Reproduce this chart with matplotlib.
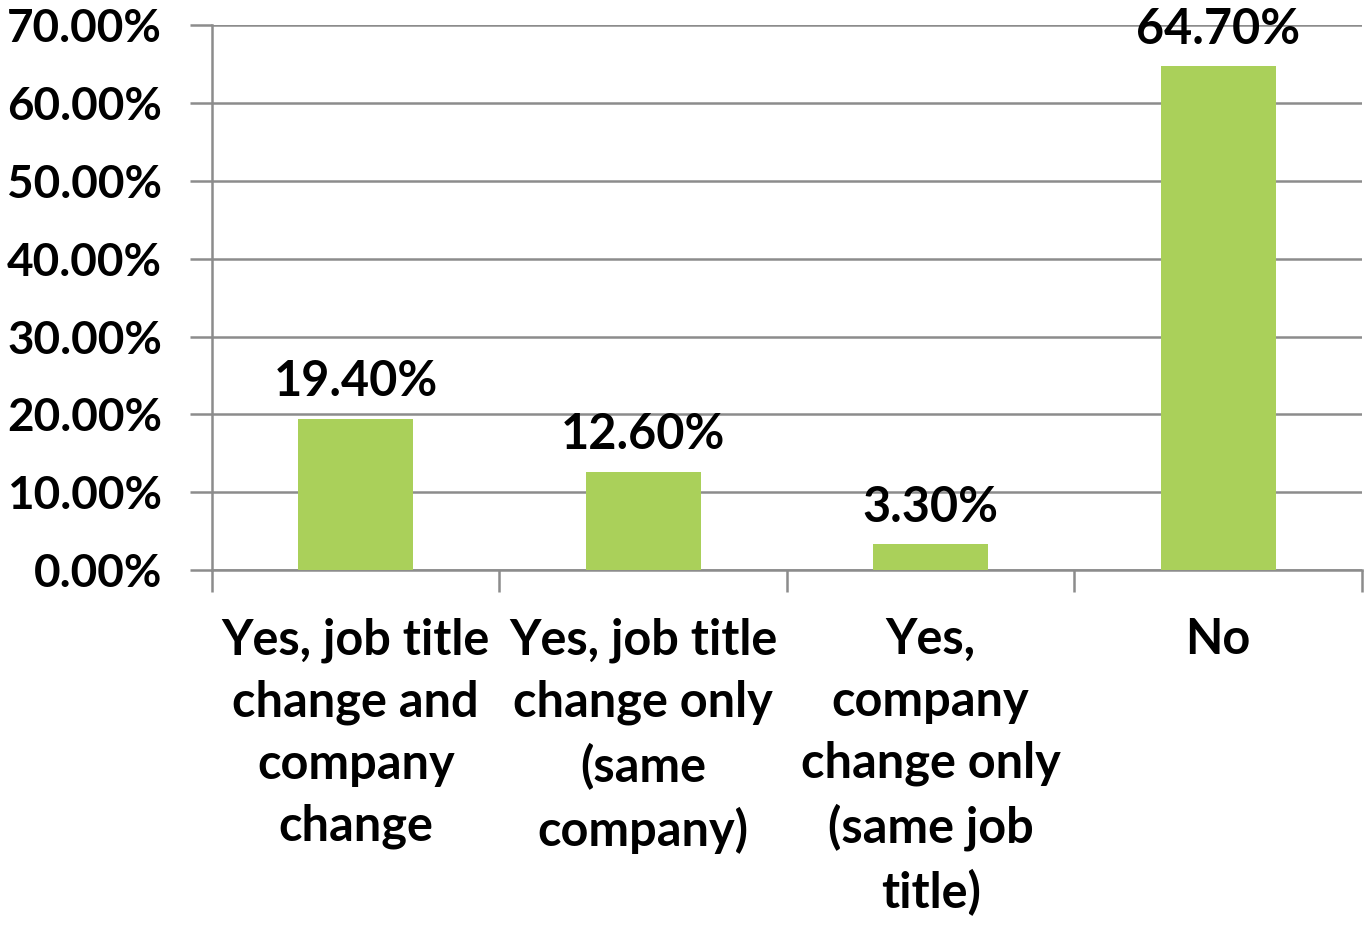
import matplotlib.pyplot as plt
import numpy as np
from matplotlib.ticker import FuncFormatter, FixedLocator

plt.rcParams['font.family'] = ['Lato', 'DejaVu Sans']
plt.rcParams['font.weight'] = 'bold'

categories = [
    'Yes, job title\nchange and\ncompany\nchange',
    'Yes, job title\nchange only\n(same\ncompany)',
    'Yes,\ncompany\nchange only\n(same job\ntitle)',
    'No',
]
shares = [19.4, 12.6, 3.3, 64.7]
y_ticks = [0, 10, 20, 30, 40, 50, 60, 70]

bar_color = '#aad05a'
grid_color = '#8c8c8c'
font_size = 35

fig = plt.figure(figsize=(13.64, 9.27), dpi=100)
ax = fig.add_axes([0.1554, 0.385, 0.843, 0.588])

x = np.arange(len(categories))
ax.bar(x, shares, width=0.4, color=bar_color, zorder=3)

for xi, v in zip(x, shares):
    ax.text(xi, v + 1.9, f'{v:.2f}%', ha='center', va='bottom',
            fontsize=font_size, fontweight='bold', zorder=4)

ax.set_xlim(-0.5, len(categories) - 0.5)
ax.set_ylim(0, 70)
ax.set_yticks(y_ticks)
ax.yaxis.set_major_formatter(FuncFormatter(lambda v, _: f'{v:.2f}%'))

# category labels sit between the boundary ticks
ax.xaxis.set_major_locator(FixedLocator(np.arange(len(categories) + 1) - 0.5))
ax.xaxis.set_major_formatter(FuncFormatter(lambda v, _: ''))
ax.set_xticks(x, minor=True)
ax.set_xticklabels(categories, minor=True)
ax.tick_params(axis='x', which='minor', length=0, pad=34, labelsize=font_size)
ax.tick_params(axis='x', which='major', length=16, width=1.8, color=grid_color)
ax.tick_params(axis='y', length=16, width=1.8, color=grid_color,
               labelsize=33, pad=20)
for lab in ax.get_yticklabels():
    lab.set_fontweight('bold')
for lab in ax.get_xticklabels(minor=True):
    lab.set_fontweight('bold')
    lab.set_linespacing(1.45)

ax.grid(axis='y', color=grid_color, linewidth=1.8, zorder=0)
ax.set_axisbelow(True)
for side in ['top', 'right']:
    ax.spines[side].set_visible(False)
for side in ['left', 'bottom']:
    ax.spines[side].set_color(grid_color)
    ax.spines[side].set_linewidth(1.8)

fig.savefig('out.png', dpi=100)
